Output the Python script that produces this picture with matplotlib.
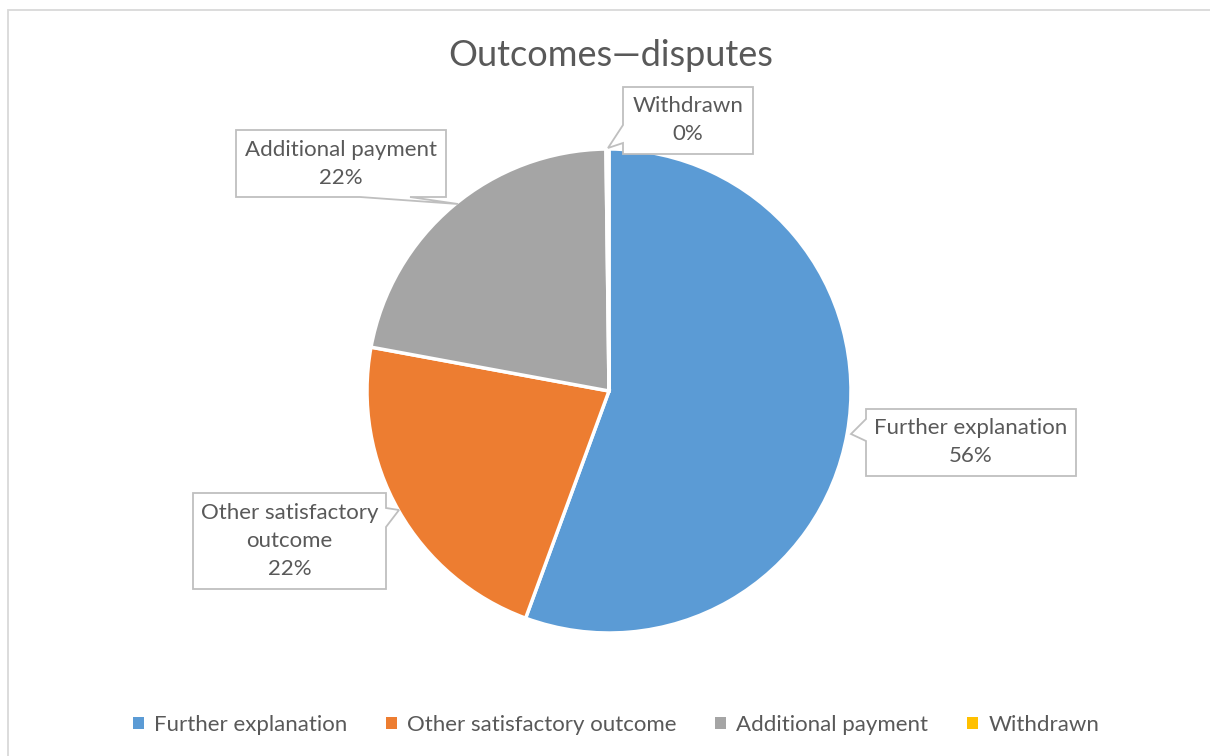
import numpy as np
import matplotlib.pyplot as plt
from matplotlib.patches import Patch, Rectangle, Polygon

plt.rcParams['font.family'] = ['Lato', 'DejaVu Sans']

categories = ['Further explanation', 'Other satisfactory outcome', 'Additional payment', 'Withdrawn']
box_text = ['Further explanation', 'Other satisfactory\noutcome', 'Additional payment', 'Withdrawn']
shares = [55.6, 22.3, 21.9, 0.2]
colors = ['#5B9BD5', '#ED7D31', '#A5A5A5', '#FFC000']

TXT = '#595959'
EDGE = '#BFBFBF'
W, H = 1210, 756

fig = plt.figure(figsize=(W / 100, H / 100), dpi=100)
ax = fig.add_axes([0, 0, 1, 1])

# chart area frame
fig.patches.append(Rectangle((7.5 / W, -0.01), 1.1, 1 - 10.5 / H + 0.01, transform=fig.transFigure,
                             fill=False, ec='#D9D9D9', lw=1.3))

cx, cy, r = 609, H - 391, 242
wedges, _ = ax.pie(shares, colors=colors, startangle=90, counterclock=False,
                   center=(cx, cy), radius=r, frame=True,
                   wedgeprops=dict(edgecolor='white', linewidth=2.5))
ax.set_xlim(0, W)
ax.set_ylim(0, H)
ax.axis('off')

total = sum(shares)
pcts = [round(100 * s / total) for s in shares]


def callout(box, side, base, tip):
    """Box with a pointer notch; coords in pixels from the top-left corner."""
    x0, y0, x1, y1 = box
    b0, b1 = base
    if side == 'left':
        pts = [(x0, y0), (x1, y0), (x1, y1), (x0, y1), (x0, b1), tip, (x0, b0)]
    elif side == 'right':
        pts = [(x0, y0), (x1, y0), (x1, b0), tip, (x1, b1), (x1, y1), (x0, y1)]
    else:  # bottom
        pts = [(x0, y0), (x1, y0), (x1, y1), (b1, y1), tip, (b0, y1), (x0, y1)]
    ax.add_patch(Polygon([(x, H - y) for x, y in pts], closed=True,
                         fc='white', ec=EDGE, lw=1.3, zorder=4))
    return (x0 + x1) / 2, H - (y0 + y1) / 2


callouts = [
    ((866, 409, 1076, 476), 'left', (419, 441), (851, 434)),
    ((193, 493, 386, 589), 'right', (508, 527), (399, 510)),
    ((236, 130, 446, 197), 'bottom', (360, 410), (458, 204)),
    ((623, 87, 753, 154), 'left', (125, 143), (608, 148)),
]
for i, (box, side, base, tip) in enumerate(callouts):
    tx, ty = callout(box, side, base, tip)
    ax.text(tx, ty, f'{box_text[i]}\n{pcts[i]}%', ha='center', va='center',
            fontsize=16, color=TXT, linespacing=1.5, zorder=5)

ax.text(611, H - 56, 'Outcomes\u2014disputes', ha='center', va='center',
        fontsize=26, color=TXT)

handles = [Patch(fc=c, ec='none') for c in colors]
leg = ax.legend(handles, categories, loc='center', bbox_to_anchor=(616 / W, 1 - 725 / H),
                ncol=4, frameon=False, fontsize=16, handlelength=0.5, handleheight=0.5,
                handletextpad=0.45, columnspacing=1.75, borderaxespad=0)
for t in leg.get_texts():
    t.set_color(TXT)

fig.savefig('out.png', dpi=100, facecolor='white')
